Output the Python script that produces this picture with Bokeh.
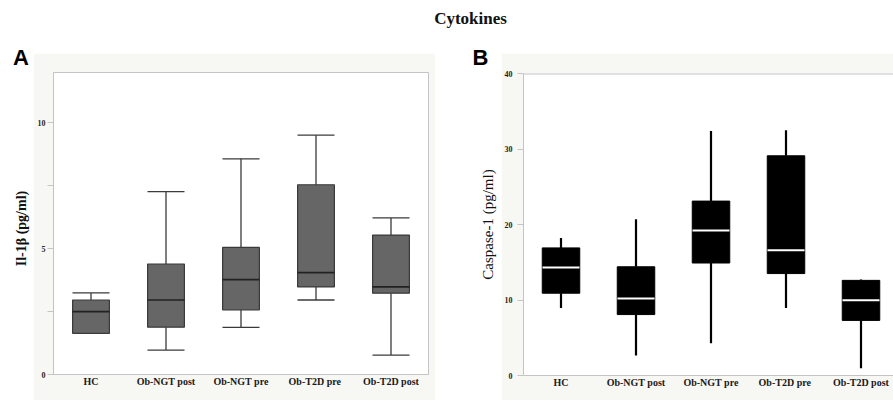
import math
from bokeh.plotting import figure
from bokeh.models import Range1d, FixedTicker, Label, Span
from bokeh.layouts import column, row
from bokeh.embed import file_html
from bokeh.resources import INLINE

# ---------------- data ----------------
categories = ["HC", "Ob-NGT post", "Ob-NGT pre", "Ob-T2D  pre", "Ob-T2D post"]

il1b_lower = [1.64, 0.97, 1.87, 2.96, 0.77]
il1b_q1 = [1.64, 1.88, 2.57, 3.48, 3.23]
il1b_median = [2.50, 2.96, 3.77, 4.05, 3.48]
il1b_q3 = [2.96, 4.39, 5.05, 7.54, 5.54]
il1b_upper = [3.24, 7.27, 8.57, 9.51, 6.22]

casp_lower = [8.95, 2.65, 4.28, 8.95, 0.97]
casp_q1 = [10.9, 8.07, 14.9, 13.5, 7.3]
casp_median = [14.3, 10.2, 19.2, 16.6, 9.96]
casp_q3 = [16.9, 14.4, 23.1, 29.1, 12.6]
casp_upper = [18.2, 20.7, 32.4, 32.5, 12.7]

il1b_ticks = [0, 5, 10]
il1b_minor = [2.5, 7.5]
casp_ticks = [0, 10, 20, 30, 40]

title_text = "Cytokines"
il1b_label = "Il-1\u03b2 (pg/ml)"
casp_label = "Caspase-1 (pg/ml)"

# ---------------- style ----------------
LIGHT = "#f7f7f3"
FRAME = "#c4c4c4"
SERIF = "Liberation Serif"
SANS = "Liberation Sans"

xs = list(range(len(categories)))
labels = {i: c for i, c in enumerate(categories)}

ROW_H = 355
GAP_H = 8
PANEL_H = ROW_H - GAP_H


def blank(w, h):
    f = figure(width=w, height=h, x_range=Range1d(0, w), y_range=Range1d(0, h),
               min_border=0, toolbar_location=None, output_backend="svg",
               x_axis_location=None, y_axis_location=None)
    f.outline_line_color = None
    f.grid.visible = False
    f.background_fill_color = "white"
    f.border_fill_color = "white"
    return f


def style_axes(p, yticks, yminor, tick_out, tick_standoff):
    ya = p.yaxis[0]
    ya.ticker = FixedTicker(ticks=yticks, minor_ticks=yminor)
    ya.major_tick_out = tick_out
    ya.major_tick_in = 0
    ya.minor_tick_out = tick_out
    ya.minor_tick_in = 0
    ya.major_tick_line_color = FRAME
    ya.minor_tick_line_color = FRAME
    ya.axis_line_color = FRAME
    ya.major_label_text_font = SERIF
    ya.major_label_text_font_style = "bold"
    ya.major_label_text_font_size = "8px"
    ya.major_label_text_color = "#2a2218"
    ya.major_label_standoff = tick_standoff

    xa = p.xaxis[0]
    xa.ticker = FixedTicker(ticks=xs)
    xa.major_label_overrides = labels
    xa.major_tick_out = 0
    xa.major_tick_in = 0
    xa.minor_tick_out = 0
    xa.minor_tick_in = 0
    xa.axis_line_color = FRAME
    xa.major_label_text_font = SERIF
    xa.major_label_text_font_style = "bold"
    xa.major_label_text_font_size = "10px"
    xa.major_label_text_color = "#1a1a1a"
    xa.major_label_standoff = 1
    p.grid.visible = False


# ---------------- title strip ----------------
top = blank(893, 45)
top.add_layout(Label(x=470, y=45 - 18, text=title_text, text_align="center",
                     text_baseline="middle", text_font=SERIF,
                     text_font_style="bold", text_font_size="17px",
                     text_color="#111111"))

# ---------------- left margin (letter A + y label) ----------------
left_a = blank(33, ROW_H)
left_a.add_layout(Label(x=12.5, y=ROW_H - 11.5, text="A", text_font=SANS,
                        text_font_style="bold", text_font_size="22px",
                        text_baseline="middle", text_color="#000000"))
left_a.add_layout(Label(x=21, y=ROW_H - 183, text=il1b_label, angle=math.pi / 2,
                        text_align="center", text_baseline="middle",
                        text_font=SERIF, text_font_style="bold",
                        text_font_size="14px", text_color="#111111"))

# ---------------- panel A ----------------
pa = figure(width=402, height=PANEL_H,
            x_range=Range1d(-0.5, 4.5), y_range=Range1d(0, 12),
            min_border_left=20, min_border_right=7, min_border_top=19, min_border_bottom=26,
            toolbar_location=None, output_backend="svg")
pa.background_fill_color = "white"
pa.border_fill_color = LIGHT
pa.outline_line_color = FRAME
style_axes(pa, il1b_ticks, il1b_minor, 6, 2)

A_DARK = "#3a3a3a"
pa.segment(x0=xs, y0=il1b_q3, x1=xs, y1=il1b_upper, line_color=A_DARK, line_width=1.3)
pa.segment(x0=xs, y0=il1b_lower, x1=xs, y1=il1b_q1, line_color=A_DARK, line_width=1.3)
pa.scatter(x=xs, y=il1b_upper, marker="dash", size=37, line_color=A_DARK, line_width=1.3)
pa.scatter(x=xs, y=il1b_lower, marker="dash", size=37, line_color=A_DARK, line_width=1.3)
pa.vbar(x=xs, width=0.49, bottom=il1b_q1, top=il1b_q3, fill_color="#666666",
        line_color=A_DARK, line_width=1.2)
pa.scatter(x=xs, y=il1b_median, marker="dash", size=37, line_color="#222222", line_width=1.6)

# ---------------- gap (letter B + y label) ----------------
gap_b = blank(66, ROW_H)
gap_b.add_layout(Label(x=37, y=ROW_H - 11.5, text="B", text_font=SANS,
                       text_font_style="bold", text_font_size="22px",
                       text_baseline="middle", text_color="#000000"))
gap_b.add_layout(Label(x=52, y=ROW_H - 179, text=casp_label, angle=math.pi / 2,
                       text_align="center", text_baseline="middle",
                       text_font=SERIF, text_font_style="normal",
                       text_font_size="15px", text_color="#111111"))

# ---------------- panel B ----------------
slot_px = 75.0
frame_w_b = 370
pb = figure(width=392, height=PANEL_H,
            x_range=Range1d(-0.5, -0.5 + frame_w_b / slot_px), y_range=Range1d(0, 40),
            min_border_left=22, min_border_right=0, min_border_top=20, min_border_bottom=25,
            toolbar_location=None, output_backend="svg")
pb.background_fill_color = "white"
pb.border_fill_color = LIGHT
pb.outline_line_color = None
style_axes(pb, casp_ticks, [], 6, 5)
pb.add_layout(Span(location=40, dimension="width", line_color=FRAME, line_width=2))

pb.segment(x0=xs, y0=casp_q3, x1=xs, y1=casp_upper, line_color="black", line_width=2.2)
pb.segment(x0=xs, y0=casp_lower, x1=xs, y1=casp_q1, line_color="black", line_width=2.2)
pb.vbar(x=xs, width=0.5, bottom=casp_q1, top=casp_q3, fill_color="black",
        line_color="black", line_width=1)
pb.scatter(x=xs, y=casp_median, marker="dash", size=37, line_color="white", line_width=2)

col_a = column(blank(402, GAP_H), pa, spacing=0)
col_b = column(blank(392, GAP_H), pb, spacing=0)

layout = column(top, row(left_a, col_a, gap_b, col_b, spacing=0), spacing=0)

open("out.html", "w").write(file_html(layout, INLINE))
